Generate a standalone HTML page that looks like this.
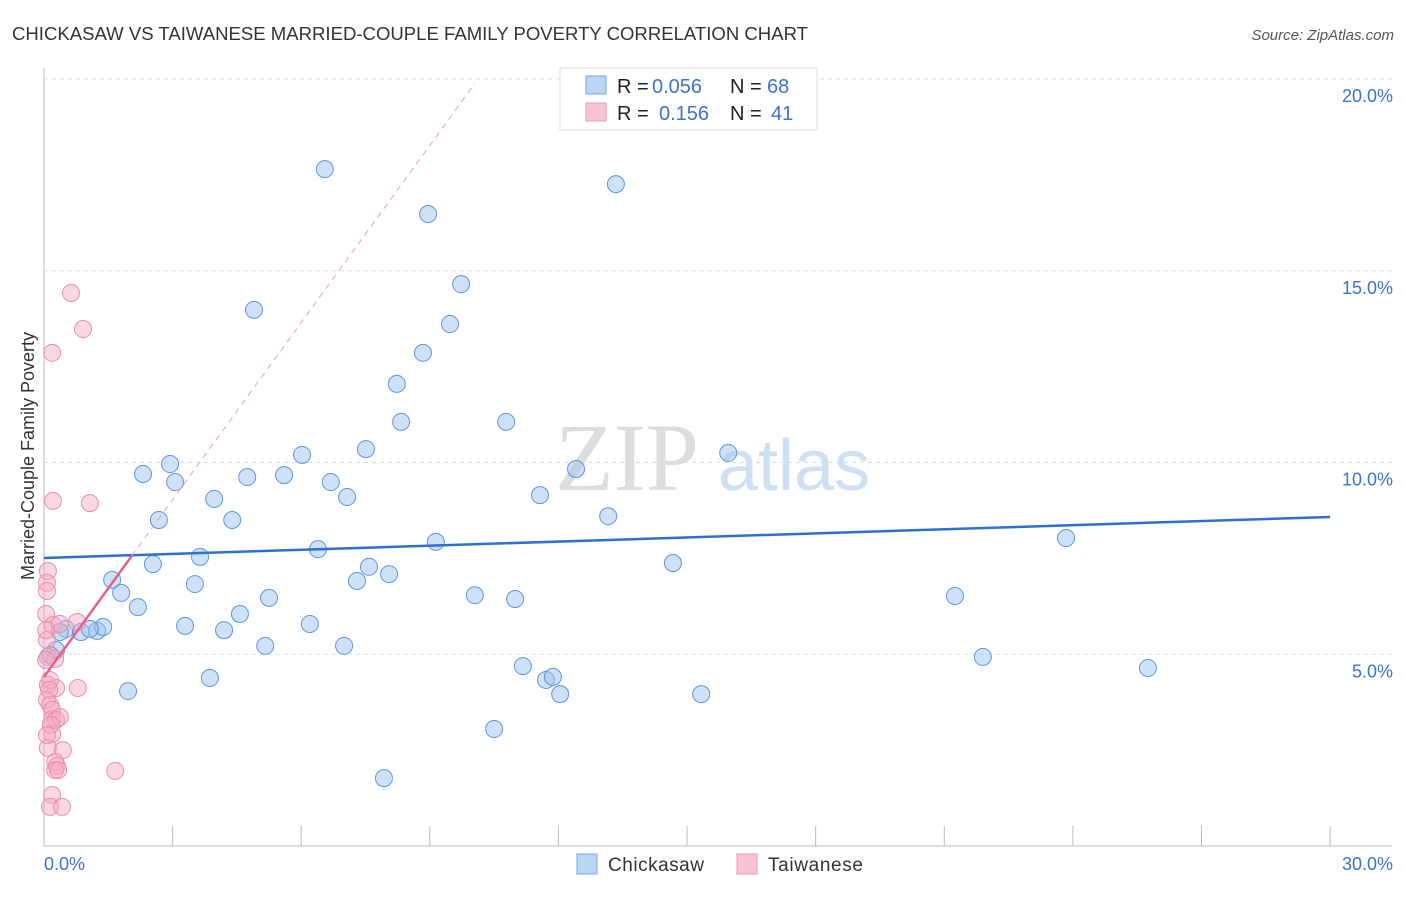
<!DOCTYPE html>
<html><head><meta charset="utf-8"><style>
body{margin:0;background:#fff;font-family:"Liberation Sans",sans-serif;}
</style></head><body>
<svg width="1406" height="892" xmlns="http://www.w3.org/2000/svg" id="svg" style="font-family:'Liberation Sans',sans-serif">
<text x="12" y="40" font-size="18" fill="#333" textLength="796" lengthAdjust="spacingAndGlyphs">CHICKASAW VS TAIWANESE MARRIED-COUPLE FAMILY POVERTY CORRELATION CHART</text>
<text x="1394" y="40" font-size="15" fill="#555" text-anchor="end" font-style="italic">Source: ZipAtlas.com</text>
<text x="555" y="490" font-size="96" fill="#ddd" font-family="Liberation Serif,serif">ZIP</text>
<text x="718" y="490" font-size="72" fill="#cfe0f5">atlas</text>
<text transform="translate(34,456) rotate(-90)" font-size="18" fill="#333" text-anchor="middle">Married-Couple Family Poverty</text>
<g id="grid"></g><g id="pts"></g><g id="trend"></g>
<g>
<rect x="560" y="68" width="257" height="62" fill="#fff" stroke="#ddd"/>
<rect x="586" y="76" width="20" height="18" fill="#bcd4f5" stroke="#7aa6e6"/>
<rect x="586" y="103" width="20" height="18" fill="#fac4d3" stroke="#ef9ab4"/>
<text x="617" y="93" font-size="20" fill="#222">R =</text>
<text x="652" y="93" font-size="20" fill="#3a74d0">0.056</text>
<text x="730" y="93" font-size="20" fill="#222">N =</text>
<text x="767" y="93" font-size="20" fill="#3a74d0">68</text>
<text x="617" y="120" font-size="20" fill="#222">R =</text>
<text x="659" y="120" font-size="20" fill="#3a74d0">0.156</text>
<text x="730" y="120" font-size="20" fill="#222">N =</text>
<text x="771" y="120" font-size="20" fill="#3a74d0">41</text>
</g>
<g>
<rect x="577" y="854" width="20" height="20" fill="#bcd4f5" stroke="#7aa6e6"/>
<text x="608" y="871" font-size="19" fill="#333" textLength="96">Chickasaw</text>
<rect x="737" y="854" width="20" height="20" fill="#fac4d3" stroke="#ef9ab4"/>
<text x="768" y="871" font-size="19" fill="#333" textLength="95">Taiwanese</text>
</g>
</svg>
<script>
const xTicks=[0,3,6,9,12,15,18,21,24,27,30];
const yTicks=[5,10,15,20];
const blueX=[6.55,13.34,8.96,9.73,4.90,9.47,8.84,8.23,8.33,10.78,7.51,6.02,15.96,2.94,2.31,3.06,4.74,5.60,6.69,12.41,3.97,7.07,11.57,2.68,4.39,13.16,9.14,6.39,23.84,3.64,2.54,14.67,7.58,8.05,1.59,3.52,7.30,1.80,5.25,10.05,10.99,21.25,2.19,4.57,3.29,6.20,4.20,0.51,0.86,1.24,1.38,1.07,0.28,7.00,5.16,21.90,11.17,25.75,11.71,11.87,3.87,1.96,12.04,15.33,10.50,7.93,0.37,0.14];
const blueY=[17.65,17.26,16.48,14.65,13.98,13.61,12.86,12.05,11.06,11.06,10.35,10.20,10.25,9.96,9.70,9.49,9.62,9.67,9.49,9.83,9.05,9.10,9.15,8.50,8.50,8.60,7.93,7.74,8.03,7.54,7.35,7.38,7.28,7.09,6.94,6.83,6.91,6.60,6.47,6.54,6.44,6.52,6.23,6.05,5.74,5.79,5.63,5.66,5.58,5.61,5.71,5.66,5.11,5.22,5.22,4.93,4.69,4.64,4.33,4.41,4.38,4.04,3.96,3.96,3.05,1.77,5.58,4.98];
const pinkX=[0.63,0.91,0.19,0.21,1.07,0.09,0.07,0.07,0.05,0.21,0.37,0.77,0.07,0.09,0.26,0.09,0.28,0.79,0.07,0.14,0.19,0.19,0.28,0.37,0.19,0.09,0.44,0.26,0.30,0.26,0.33,1.66,0.19,0.14,0.42,0.05,0.14,0.12,0.05,0.16,0.07];
const pinkY=[14.42,13.48,12.86,9.00,8.94,7.17,6.86,6.65,6.05,5.76,5.79,5.84,5.37,4.93,4.88,4.20,4.12,4.12,3.81,3.68,3.55,3.31,3.29,3.36,2.92,2.56,2.50,2.19,2.09,1.98,1.98,1.96,1.33,1.02,1.02,4.85,4.33,4.07,5.63,3.16,2.89];
const blueTrend=[7.51,8.58];
const pinkTrend=[4.41,1.54];
const NS='http://www.w3.org/2000/svg';
const X=v=>44+v*42.87, Y=v=>846-v*38.35;
function mk(t,a,p){const e=document.createElementNS(NS,t);for(const k in a)e.setAttribute(k,a[k]);document.getElementById(p).appendChild(e);return e;}
let e;
e=mk('line',{x1:44,y1:68,x2:44,y2:846,stroke:'#bbb'},'grid');


e=mk('line',{x1:44,y1:846,x2:1392,y2:846,stroke:'#bbb'},'grid');


yTicks.forEach(t=>{
 e=mk('line',{x1:44,x2:1392,y1:Y(t),y2:Y(t),stroke:'#ddd','stroke-dasharray':'4,4'},'grid');
 
 
 e=mk('text',{x:1393,y:Y(t)+23,'font-size':18,fill:'#3a74d0','text-anchor':'end'},'grid');
 e.textContent=t.toFixed(1)+'%';
 
 
});
xTicks.forEach(t=>{
 if(t===0)return;
 e=mk('line',{x1:X(t),x2:X(t),y1:826,y2:846,stroke:'#bbb'},'grid');
 
 
});
[[0,'start'],[30,'end']].forEach(([t,a])=>{
 e=mk('text',{x:t===0?44:1393,y:870,'font-size':18,fill:'#3a74d0','text-anchor':a},'grid');
 e.textContent=t.toFixed(1)+'%';
 
 
});
blueX.forEach((x,i)=>{
 e=mk('circle',{cx:X(x),cy:Y(blueY[i]),r:8.5,fill:'rgba(160,195,240,0.5)',stroke:'#5f95e0','stroke-width':1},'pts');
 
 
});
pinkX.forEach((x,i)=>{
 e=mk('circle',{cx:X(x),cy:Y(pinkY[i]),r:8.5,fill:'rgba(245,168,192,0.45)',stroke:'#ec8eab','stroke-width':1},'pts');
 
 
});
e=mk('line',{x1:X(0),y1:Y(blueTrend[0]),x2:X(30),y2:Y(blueTrend[1]),stroke:'#2f6fd0','stroke-width':2.5},'trend');


e=mk('line',{x1:X(2.05),y1:Y(pinkTrend[0]+pinkTrend[1]*2.05),x2:X(10.05),y2:Y(pinkTrend[0]+pinkTrend[1]*10.05),stroke:'#e8a0b8','stroke-width':1,'stroke-dasharray':'6,5'},'trend');


e=mk('line',{x1:X(0),y1:Y(pinkTrend[0]),x2:X(2.05),y2:Y(pinkTrend[0]+pinkTrend[1]*2.05),stroke:'#e5608a','stroke-width':2.5},'trend');


</script>
</body></html>
